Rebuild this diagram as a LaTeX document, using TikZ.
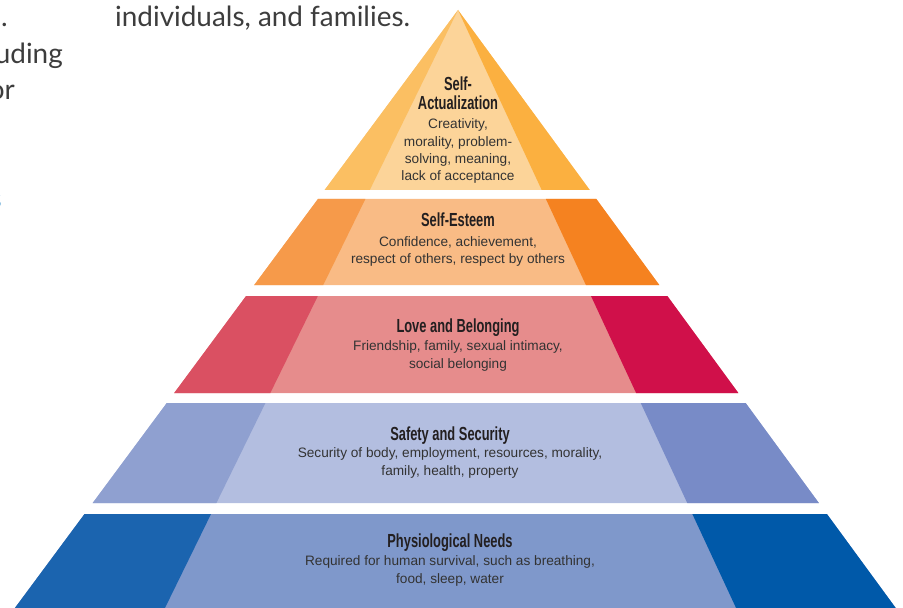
\documentclass[tikz,border=0pt]{standalone}
\usepackage{fontspec}
\setmainfont{Liberation Sans}
\newfontfamily\headfont[FakeStretch=0.68]{Liberation Sans}
\newfontfamily\pagefont{Lato}

\definecolor{pagecol}{HTML}{3D3D3D}
\definecolor{linkblue}{HTML}{1A7FC1}
\definecolor{titlecol}{HTML}{231F20}
\definecolor{bodycol}{HTML}{333333}
% level colours: left face, middle, right face
\definecolor{saL}{HTML}{FBBF62}
\definecolor{saM}{HTML}{FCD499}
\definecolor{saR}{HTML}{FBB040}
\definecolor{seL}{HTML}{F69A4A}
\definecolor{seM}{HTML}{F9BB85}
\definecolor{seR}{HTML}{F58220}
\definecolor{lbL}{HTML}{DA5062}
\definecolor{lbM}{HTML}{E68C8C}
\definecolor{lbR}{HTML}{D0104A}
\definecolor{ssL}{HTML}{8FA0D0}
\definecolor{ssM}{HTML}{B3BEE0}
\definecolor{ssR}{HTML}{788BC7}
\definecolor{pnL}{HTML}{1B64AF}
\definecolor{pnM}{HTML}{7F98CB}
\definecolor{pnR}{HTML}{0059A9}

\begin{document}
\begin{tikzpicture}[x=1bp, y=-1bp,
  lvltitle/.style={font=\headfont\bfseries\fontsize{19}{20}\selectfont, text=titlecol, anchor=base, inner sep=0pt, align=center},
  lvltext/.style={font=\fontsize{13.7}{17.5}\selectfont, text=bodycol, anchor=base, inner sep=0pt, align=center},
  pagetext/.style={font=\pagefont\fontsize{28}{36}\selectfont, text=pagecol, anchor=base east, inner sep=0pt}]

\useasboundingbox (0,0) rectangle (903,608);

% text of the page around the figure
\node[pagetext] (line1) at (8,27) {s.};
\node[pagetext] (line2) at (63,64) {uding};
\node[pagetext] (line3) at (15,100) {or};
\node[pagetext, text=linkblue] (line6) at (2,209) {s};
\node[pagetext, anchor=base west] (famline) at (115,27) {individuals, and families.};

% pyramid bands
\foreach \yt/\yb/\cl/\cm/\cr in {10/190/saL/saM/saR, 199/285/seL/seM/seR, 296/393/lbL/lbM/lbR, 403/503/ssL/ssM/ssR, 514/610/pnL/pnM/pnR}
{
\fill[\cm] ({458-0.741*(\yt-10)},\yt) -- ({458+0.732*(\yt-10)},\yt) -- ({458+0.732*(\yb-10)},\yb) -- ({458-0.741*(\yb-10)},\yb) -- cycle;
\fill[\cl] ({458-0.741*(\yt-10)},\yt) -- ({458-0.49*(\yt-10)},\yt) -- ({458-0.49*(\yb-10)},\yb) -- ({458-0.741*(\yb-10)},\yb) -- cycle;
\fill[\cr] ({458+0.465*(\yt-10)},\yt) -- ({458+0.732*(\yt-10)},\yt) -- ({458+0.732*(\yb-10)},\yb) -- ({458+0.465*(\yb-10)},\yb) -- cycle;
}

% labels (base = baseline of the last line)
\node[lvltitle] (actTitle) at (458,110) {Self-\\Actualization};
\node[lvltext] (actText) at (458,181) {Creativity,\\morality, problem-\\solving, meaning,\\lack of acceptance};

\node[lvltitle] (estTitle) at (458,227) {Self-Esteem};
\node[lvltext] (estText) at (458,264) {Confidence, achievement,\\respect of others, respect by others};

\node[lvltitle] (loveTitle) at (458,332) {Love and Belonging};
\node[lvltext] (loveText) at (458,368) {Friendship, family, sexual intimacy,\\social belonging};

\node[lvltitle] (safeTitle) at (450,440) {Safety and Security};
\node[lvltext] (safeText) at (450,475) {Security of body, employment, resources, morality,\\family, health, property};

\node[lvltitle] (physTitle) at (450,547) {Physiological Needs};
\node[lvltext] (physText) at (450,583) {Required for human survival, such as breathing,\\food, sleep, water};

\end{tikzpicture}
\end{document}
